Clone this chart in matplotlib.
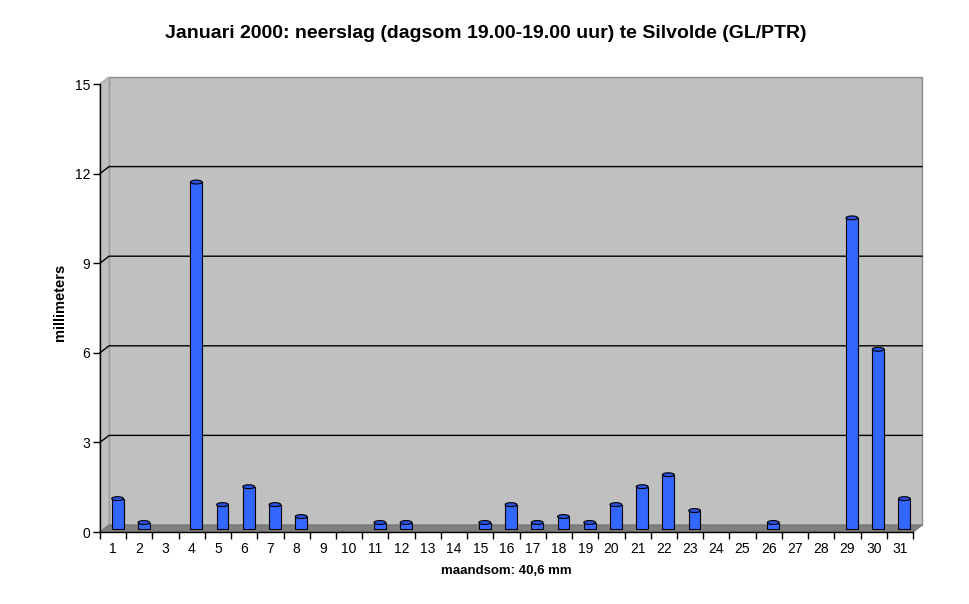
import numpy as np
import matplotlib.pyplot as plt
from matplotlib.patches import Polygon, Rectangle, Ellipse

plt.rcParams['font.family'] = ['Liberation Sans', 'DejaVu Sans']

# daily precipitation, January 2000 (mm)
days = list(range(1, 32))
rain = [1.0, 0.2, 0.0, 11.6, 0.8, 1.4, 0.8, 0.4, 0.0, 0.0,
        0.2, 0.2, 0.0, 0.0, 0.2, 0.8, 0.2, 0.4, 0.2, 0.8,
        1.4, 1.8, 0.6, 0.0, 0.0, 0.2, 0.0, 0.0, 10.4, 6.0, 1.0]
yticks = [0, 3, 6, 9, 12, 15]

title = 'Januari 2000: neerslag (dagsom 19.00-19.00 uur) te Silvolde (GL/PTR)'
ylabel = 'millimeters'
xlabel = 'maandsom: 40,6 mm'

fig = plt.figure(figsize=(9.7, 6.04), dpi=100)
ax = fig.add_axes([100/970, 72/604, 813/970, 448/604])
n = len(days)
ax.set_xlim(0, n)
ax.set_ylim(0, 15)

# depth offset of the 3d box, in data units (about 9 px right, 7 px up)
dx = 9 * n / 813
dy = 7 * 15 / 448

wall = '#c0c0c0'
ax.add_patch(Rectangle((dx, dy), n, 15, facecolor=wall, edgecolor='#8c8c8c',
                       lw=1, clip_on=False, zorder=0))
ax.add_patch(Polygon([(0, 0), (dx, dy), (dx, 15 + dy), (0, 15)], closed=True,
                     facecolor=wall, edgecolor='#a8a8a8', lw=1, clip_on=False, zorder=0))
ax.add_patch(Polygon([(0, 0), (n, 0), (n + dx, dy), (dx, dy)], closed=True,
                     facecolor='#808080', edgecolor='#707070', lw=0.8, clip_on=False, zorder=1))
ax.plot([n, n + dx], [0, dy], color='#808080', lw=1, clip_on=False, zorder=1)
for v in yticks[1:-1]:
    ax.plot([0, dx, n + dx], [v, v + dy, v + dy], color='black', lw=1,
            clip_on=False, zorder=1)

# cylinders
bw = 0.45
eh = 0.13
for d, r in zip(days, rain):
    if r <= 0:
        continue
    cx = d - 0.5 + dx / 2
    y0 = dy / 2
    ax.add_patch(Rectangle((cx - bw / 2, y0), bw, r, facecolor='#3366ff',
                           edgecolor='black', lw=0.8, clip_on=False, zorder=3))
    ax.add_patch(Ellipse((cx, y0 + r), bw, eh, facecolor='#2a52e0',
                         edgecolor='black', lw=0.8, clip_on=False, zorder=4))

for s in ['top', 'right']:
    ax.spines[s].set_visible(False)
ax.spines['left'].set_linewidth(1)
ax.spines['bottom'].set_linewidth(1)
ax.patch.set_visible(False)

ax.set_yticks(yticks)
ax.set_yticklabels([str(v) for v in yticks], fontsize=10)
ax.tick_params(axis='y', direction='out', length=5, width=1, pad=2)

ax.set_xticks(np.arange(0, n + 1))
ax.set_xticklabels([])
ax.set_xticks(np.arange(n) + 0.5, minor=True)
ax.set_xticklabels([str(d) for d in days], minor=True, fontsize=10)
ax.tick_params(axis='x', which='major', direction='out', length=5, width=1)
ax.tick_params(axis='x', which='minor', length=0, pad=7)

fig.text(60/970, 1 - 302/604, ylabel, fontsize=10.5, fontweight='bold',
         rotation=90, ha='center', va='center')
fig.text(506/970, 1 - 571/604, xlabel, fontsize=9.5, fontweight='bold',
         ha='center', va='center')
fig.text(486/970, 1 - 33/604, title, fontsize=14, fontweight='bold',
         ha='center', va='center')

fig.savefig('out.png', dpi=100)
